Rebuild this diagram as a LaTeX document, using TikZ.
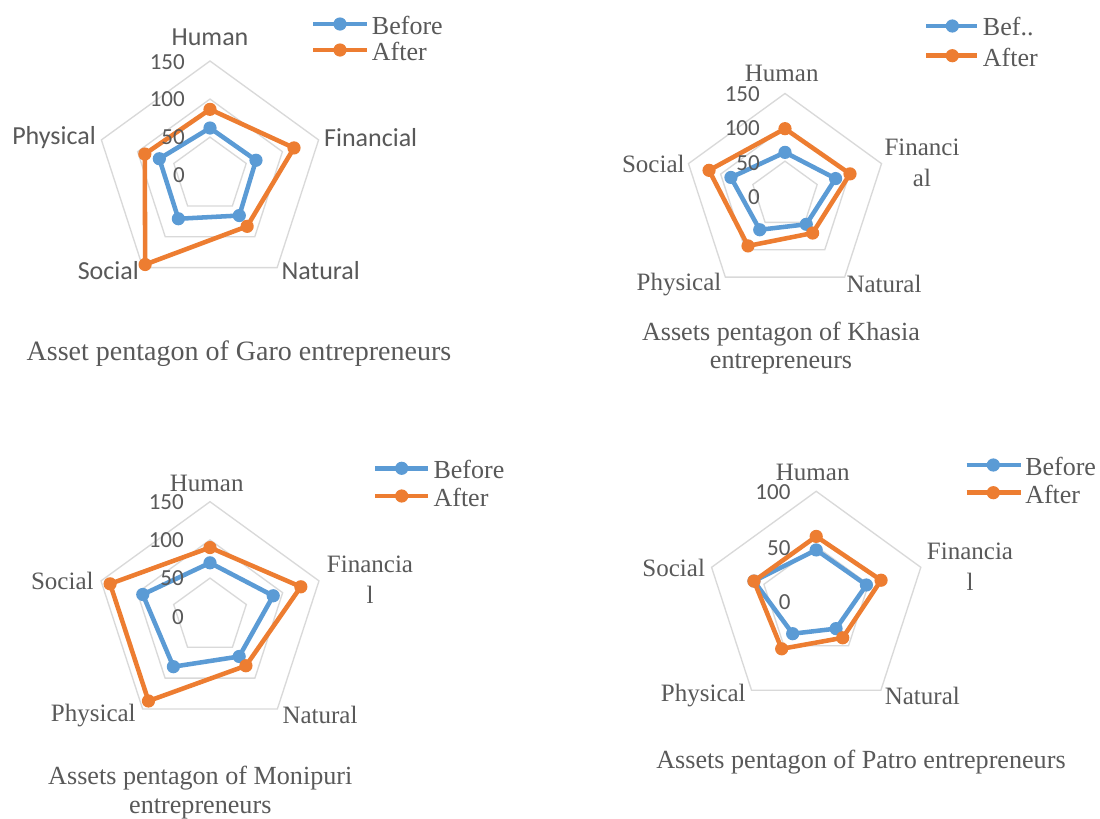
\documentclass[tikz,border=0pt]{standalone}
\usepackage{fontspec}
\setmainfont{Liberation Serif}
\newfontfamily\calib{Carlito}
\definecolor{txt}{HTML}{595959}
\definecolor{bl}{HTML}{5B9BD5}
\definecolor{orr}{HTML}{ED7D31}
\definecolor{grd}{HTML}{D9D9D9}
\newcommand\ring[1]{\draw[gridline] (-90:#1) -- (-18:#1) -- (54:#1) -- (126:#1) -- (198:#1) -- cycle;}
\newcommand\series[4]{% prefix, style, scale, values
  \foreach \v [count=\i] in {#4} {\coordinate (#1\i) at ({-90+72*(\i-1)}:{\v*#3});}
  \draw[#2] (#11) -- (#12) -- (#13) -- (#14) -- (#15) -- cycle;
  \foreach \i in {1,...,5} {\fill[#2 dot] (#1\i) circle (6.6);}
}
\begin{document}
\begin{tikzpicture}[x=0.75pt,y=-0.75pt,
  lab/.style={text=txt,font=\fontsize{18.75}{23}\selectfont,inner sep=0,align=center},
  slab/.style={text=txt,font=\calib\fontsize{19.5}{23}\selectfont,inner sep=0},
  num/.style={text=txt,font=\calib\fontsize{17.25}{20}\selectfont,inner sep=0,anchor=east},
  ttl/.style={text=txt,font=\fontsize{19.6}{21.5}\selectfont,inner sep=0,align=center},
  bigttl/.style={text=txt,font=\fontsize{21}{24}\selectfont,inner sep=0,align=center},
  gridline/.style={draw=grd,line width=1pt,line join=miter},
  before/.style={draw=bl,line width=3.4pt,line join=round},
  after/.style={draw=orr,line width=3.4pt,line join=round},
  before dot/.style={fill=bl},
  after dot/.style={fill=orr},
  legtext/.style={text=txt,font=\fontsize{19.5}{23}\selectfont,inner sep=0,anchor=west}]
\useasboundingbox[fill=white] (0,0) rectangle (1100,818);

% ---------------- Chart 1: Garo ----------------
\begin{scope}[shift={(210,175.2)}]
  \ring{38.07}\ring{76.13}\ring{114.2}
  \series{a}{before}{0.7613}{62,63.5,65.5,70.7,70}
  \series{b}{after}{0.7613}{86.5,116,83,145,90}
\end{scope}
\node[num] (g150) at (185,61.7) {150};
\node[num] (g100) at (185,99.3) {100};
\node[num] (g50) at (185,136.7) {50};
\node[num] (g0) at (185,175) {0};
\node[slab] (gH) at (210,37.5) {Human};
\node[slab] (gF) at (370.7,137.3) {Financial};
\node[slab] (gN) at (320.7,270.7) {Natural};
\node[slab] (gS) at (108.3,270.7) {Social};
\node[slab] (gP) at (54,137.3) {Physical};
\node[bigttl] (gT) at (239,354) {Asset pentagon of Garo entrepreneurs};
\coordinate (gl1a) at (313.3,24); \coordinate (gl1b) at (366.7,24);
\coordinate (gl2a) at (313.3,50); \coordinate (gl2b) at (366.7,50);
\draw[before] (gl1a) -- (gl1b); \fill[before dot] (340,24) circle (6.6);
\draw[after] (gl2a) -- (gl2b); \fill[after dot] (340,50) circle (6.6);
\node[legtext] (gLB) at (371.7,25) {Before};
\node[legtext] (gLA) at (371.7,51) {After};

% ---------------- Chart 2: Khasia ----------------
\begin{scope}[shift={(785,195)}]
  \ring{33.83}\ring{67.67}\ring{101.5}
  \series{c}{before}{0.6767}{63,78.6,53.5,63.5,84}
  \series{d}{after}{0.6767}{98,101,69.5,93,118}
\end{scope}
\node[num] (k150) at (760,94) {150};
\node[num] (k100) at (760,128.3) {100};
\node[num] (k50) at (760,163.3) {50};
\node[num] (k0) at (760,196.7) {0};
\node[lab] (kH) at (781.7,73) {Human};
\node[lab] (kF) at (922,163) {Financi\\al};
\node[lab] (kN) at (884,283.5) {Natural};
\node[lab] (kP) at (679,284.5) {Physical};
\node[lab] (kS) at (653.3,164) {Social};
\node[ttl] (kT) at (781,348) {Assets pentagon of Khasia\\entrepreneurs};
\coordinate (kl1a) at (926,26); \coordinate (kl1b) at (977.3,26);
\coordinate (kl2a) at (926,55.7); \coordinate (kl2b) at (977.3,55.7);
\draw[before] (kl1a) -- (kl1b); \fill[before dot] (952.3,26) circle (6.6);
\draw[after] (kl2a) -- (kl2b); \fill[after dot] (952.3,55.7) circle (6.6);
\node[legtext] (kLB) at (982.7,27) {Bef..};
\node[legtext] (kLA) at (982.7,57) {After};

% ---------------- Chart 3: Monipuri ----------------
\begin{scope}[shift={(210,616.3)}]
  \ring{38.2}\ring{76.4}\ring{114.6}
  \series{e}{before}{0.764}{70,87,65,81.5,92.5}
  \series{f}{after}{0.764}{90,125,80,137,137.5}
\end{scope}
\node[num] (m150) at (184,501.7) {150};
\node[num] (m100) at (184,540) {100};
\node[num] (m50) at (184,578.3) {50};
\node[num] (m0) at (184,616.7) {0};
\node[lab] (mH) at (206.7,483) {Human};
\node[lab] (mF) at (370,580) {Financia\\l};
\node[lab] (mN) at (320,715) {Natural};
\node[lab] (mP) at (93.3,716) {Physical};
\node[lab] (mS) at (62.3,581) {Social};
\node[ttl] (mT) at (200.3,792.5) {Assets pentagon of Monipuri\\entrepreneurs};
\coordinate (ml1a) at (375,468.3); \coordinate (ml1b) at (428.3,468.3);
\coordinate (ml2a) at (375,496); \coordinate (ml2b) at (428.3,496);
\draw[before] (ml1a) -- (ml1b); \fill[before dot] (401.7,468.3) circle (6.6);
\draw[after] (ml2a) -- (ml2b); \fill[after dot] (401.7,496) circle (6.6);
\node[legtext] (mLB) at (433.3,469.5) {Before};
\node[legtext] (mLA) at (433.3,497) {After};

% ---------------- Chart 4: Patro ----------------
\begin{scope}[shift={(816.2,601.3)}]
  \ring{55}\ring{110}
  \series{p}{before}{1.1}{46.7,48,30.7,36.4,59.5}
  \series{q}{after}{1.1}{59,62,41,53.4,59.5}
\end{scope}
\node[num] (p100) at (790.7,492.3) {100};
\node[num] (p50) at (790.7,548.3) {50};
\node[num] (p0) at (790.7,602.3) {0};
\node[lab] (pH) at (812.7,472.5) {Human};
\node[lab] (pF) at (970,567) {Financia\\l};
\node[lab] (pN) at (922.3,696) {Natural};
\node[lab] (pP) at (703.3,696) {Physical};
\node[lab] (pS) at (673.7,567.5) {Social};
\node[ttl] (pT) at (861,762.5) {Assets pentagon of Patro entrepreneurs};
\coordinate (pl1a) at (966.7,465); \coordinate (pl1b) at (1020.7,465);
\coordinate (pl2a) at (966.7,492.7); \coordinate (pl2b) at (1020.7,492.7);
\draw[before] (pl1a) -- (pl1b); \fill[before dot] (993.3,465) circle (6.6);
\draw[after] (pl2a) -- (pl2b); \fill[after dot] (993.3,492.7) circle (6.6);
\node[legtext] (pLB) at (1025,466) {Before};
\node[legtext] (pLA) at (1025,494) {After};
\end{tikzpicture}
\end{document}
